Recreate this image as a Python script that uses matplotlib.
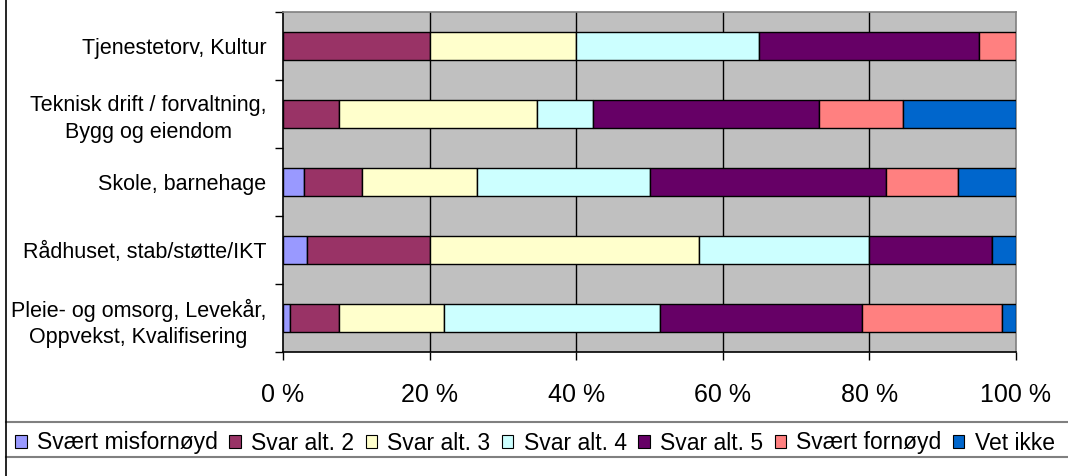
import matplotlib
matplotlib.use("Agg")
from matplotlib import pyplot as plt
from matplotlib.patches import Patch
from matplotlib.lines import Line2D
import numpy as np

plt.rcParams['font.family'] = ['Liberation Sans', 'DejaVu Sans']

categories = ["Tjenestetorv, Kultur",
              "Teknisk drift / forvaltning,\nBygg og eiendom",
              "Skole, barnehage",
              "Rådhuset, stab/støtte/IKT",
              "Pleie- og omsorg, Levekår,\nOppvekst, Kvalifisering"]

series_names = ["Svært misfornøyd", "Svar alt. 2", "Svar alt. 3", "Svar alt. 4",
                "Svar alt. 5", "Svært fornøyd", "Vet ikke"]
series_colors = ["#9999FF", "#993366", "#FFFFCC", "#CCFFFF",
                 "#660066", "#FF8080", "#0066CC"]

# percent per category (rows follow categories), columns follow series
svaert_misfornoyd = [0.0, 0.0, 2.9, 3.3, 0.9]
svar_alt_2 = [20.0, 7.7, 7.9, 16.7, 6.7]
svar_alt_3 = [20.0, 26.9, 15.6, 36.7, 14.3]
svar_alt_4 = [25.0, 7.7, 23.6, 23.3, 29.5]
svar_alt_5 = [30.0, 30.8, 32.3, 16.7, 27.6]
svaert_fornoyd = [5.0, 11.5, 9.8, 0.0, 19.1]
vet_ikke = [0.0, 15.4, 7.9, 3.3, 1.9]

x_ticks = [0, 20, 40, 60, 80, 100]
x_labels = ["0 %", "20 %", "40 %", "60 %", "80 %", "100 %"]

series = [svaert_misfornoyd, svar_alt_2, svar_alt_3, svar_alt_4,
          svar_alt_5, svaert_fornoyd, vet_ikke]

fig = plt.figure(figsize=(10.68, 4.76), dpi=100)
ax = fig.add_axes([283/1068, 1-352/476, (1016-283)/1068, (352-12)/476])
ax.set_facecolor("#C0C0C0")

y = np.arange(len(categories))
left = np.zeros(len(categories))
for vals, name, col in zip(series, series_names, series_colors):
    vals = np.array(vals)
    ax.barh(y, vals, left=left, height=0.4, color=col, edgecolor="black",
            linewidth=1, label=name, zorder=3)
    left += vals

ax.set_xlim(0, 100)
ax.set_ylim(len(categories)-0.5, -0.5)
ax.set_xticks(x_ticks)
ax.set_xticklabels(x_labels, fontsize=18)
ax.tick_params(axis="x", direction="out", length=6, width=1, pad=16)
ax.set_yticks(np.arange(-0.5, len(categories)))
ax.set_yticklabels([])
ax.tick_params(axis="y", which="major", direction="out", length=6, width=1)
ax.set_yticks(y, minor=True)
ax.set_yticklabels(categories, minor=True, fontsize=15.5)
ax.tick_params(axis="y", which="minor", length=0, pad=12)
for lab in ax.get_yticklabels(minor=True):
    lab.set_multialignment("center")
    lab.set_linespacing(1.35)

for xv in x_ticks[1:-1]:
    ax.axvline(xv, color="black", linewidth=1, zorder=1)

ax.spines["left"].set_color("black")
ax.spines["bottom"].set_color("black")
ax.spines["top"].set_color("#808080")
ax.spines["right"].set_color("#808080")
for s in ax.spines.values():
    s.set_linewidth(1.2)

handles = [Patch(facecolor=c, edgecolor="black", linewidth=0.8) for c in series_colors]
fig.legend(handles, series_names, loc="center", bbox_to_anchor=(535/1068, 1-443/476),
           ncol=7, frameon=False, fontsize=16.5, handlelength=0.5, handleheight=0.5,
           handletextpad=0.45, columnspacing=0.5, borderaxespad=0, borderpad=0)

# chart frame pieces
fig.add_artist(Line2D([6/1068, 1], [1-422/476, 1-422/476], color="#808080", linewidth=1.5))
fig.add_artist(Line2D([6/1068, 1], [1-457/476, 1-457/476], color="#808080", linewidth=1.5))
fig.add_artist(Line2D([6/1068, 6/1068], [0, 1], color="black", linewidth=1.2))

fig.savefig("out.png", dpi=100)
